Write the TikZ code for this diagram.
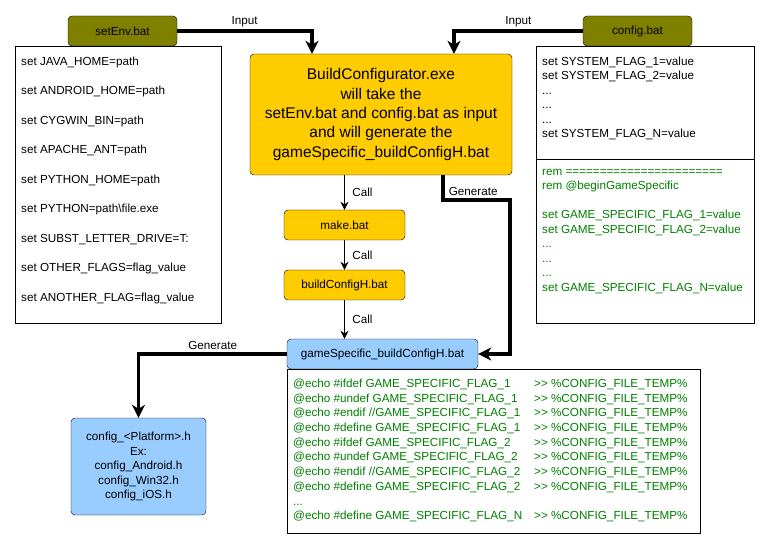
\documentclass[tikz,border=0pt]{standalone}
\usepackage{fontspec}
\setmainfont{Liberation Sans}
\usetikzlibrary{arrows.meta}

\definecolor{batolive}{HTML}{808000}
\definecolor{exeyellow}{HTML}{FFCC00}
\definecolor{hblue}{HTML}{99CCFF}
\definecolor{gamegreen}{HTML}{008000}

\newcommand{\echoln}[1]{\makebox[241pt][l]{#1}>{}> \%CONFIG\_FILE\_TEMP\%}

\begin{document}
\begin{tikzpicture}[x=1pt, y=-1pt,
    every node/.style={font=\fontsize{11.7}{14.5}\selectfont},
    srcfile/.style={draw, rounded corners=4pt, fill=batolive, minimum width=109pt, minimum height=30pt, inner sep=0pt},
    stepfile/.style={draw, rounded corners=4pt, fill=exeyellow, minimum width=121pt, minimum height=30pt, inner sep=0pt},
    hfile/.style={draw, rounded corners=4pt, fill=hblue, inner sep=0pt},
    listbox/.style={draw, fill=white, anchor=north west, inner xsep=6pt, inner ysep=0pt},
    flow/.style={line width=3.5pt, -{Stealth[length=13pt, width=13pt, inset=4pt]}},
    call/.style={line width=1pt, -{Stealth[length=8pt, width=8pt, inset=2.5pt]}},
]
    \useasboundingbox (0,0) rectangle (769,548);

    % Fichiers d'entree
    \node[srcfile] (setenv) at (122.5,31) {setEnv.bat};
    \node[srcfile] (cfgbat) at (637.5,31) {config.bat};

    \node[listbox, font=\fontsize{11.7}{29.5}\selectfont] (envlist) at (15,46)
        {\parbox[t][277pt][t]{194pt}{\vspace*{10.8pt}%
        set JAVA\_HOME=path\\
        set ANDROID\_HOME=path\\
        set CYGWIN\_BIN=path\\
        set APACHE\_ANT=path\\
        set PYTHON\_HOME=path\\
        set PYTHON=path\textbackslash file.exe\\
        set SUBST\_LETTER\_DRIVE=T:\\
        set OTHER\_FLAGS=flag\_value\\
        set ANOTHER\_FLAG=flag\_value}};

    \node[listbox] (cfgsys) at (536,46)
        {\parbox[t][113pt][t]{206pt}{\vspace*{10.8pt}%
        set SYSTEM\_FLAG\_1=value\\
        set SYSTEM\_FLAG\_2=value\\
        ...\\
        ...\\
        ...\\
        set SYSTEM\_FLAG\_N=value}};
    \node[listbox, text=gamegreen] (cfggame) at (536,159)
        {\parbox[t][164pt][t]{206pt}{\vspace*{9.8pt}%
        rem =======================\\
        rem @beginGameSpecific\\
        \mbox{}\\
        set GAME\_SPECIFIC\_FLAG\_1=value\\
        set GAME\_SPECIFIC\_FLAG\_2=value\\
        ...\\
        ...\\
        ...\\
        set GAME\_SPECIFIC\_FLAG\_N=value}};

    % Chaine de build
    \node[stepfile, minimum width=262pt, minimum height=121pt, align=center,
        font=\fontsize{15.5}{19.4}\selectfont] (build) at (381,114.5)
        {BuildConfigurator.exe\\ will take the\\ setEnv.bat and config.bat as input\\
         and will generate the\\ gameSpecific\_buildConfigH.bat};
    \node[stepfile] (make) at (344.5,225) {make.bat};
    \node[stepfile] (buildh) at (344.5,285) {buildConfigH.bat};
    \node[hfile, minimum width=191pt, minimum height=30pt] (gsb) at (382.5,354)
        {gameSpecific\_buildConfigH.bat};

    \node[listbox, text=gamegreen, font=\fontsize{11.7}{14.7}\selectfont] (gscode) at (287,369)
        {\parbox[t][164pt][t]{401pt}{\vspace*{9.8pt}%
        \echoln{@echo \#ifdef GAME\_SPECIFIC\_FLAG\_1}\\
        \echoln{@echo \#undef GAME\_SPECIFIC\_FLAG\_1}\\
        \echoln{@echo \#endif //GAME\_SPECIFIC\_FLAG\_1}\\
        \echoln{@echo \#define GAME\_SPECIFIC\_FLAG\_1}\\
        \echoln{@echo \#ifdef GAME\_SPECIFIC\_FLAG\_2}\\
        \echoln{@echo \#undef GAME\_SPECIFIC\_FLAG\_2}\\
        \echoln{@echo \#endif //GAME\_SPECIFIC\_FLAG\_2}\\
        \echoln{@echo \#define GAME\_SPECIFIC\_FLAG\_2}\\
        ...\\
        \echoln{@echo \#define GAME\_SPECIFIC\_FLAG\_N}}};

    % Resultat
    \node[hfile, minimum width=135pt, minimum height=97pt, align=center] (platform) at (138.5,466.5)
        {config\_<Platform>.h\\ Ex:\\ config\_Android.h\\ config\_Win32.h\\ config\_iOS.h};

    % Fleches
    \draw[flow] (setenv.east) -| node[pos=0.25, above, inner sep=2pt] {Input} ([xshift=-69pt]build.north);
    \draw[flow] (cfgbat.west) -| node[pos=0.25, above, inner sep=2pt] {Input} ([xshift=73pt]build.north);

    \draw[call] (build.south -| make.north) -- node[right, xshift=4pt] {Call} (make.north);
    \draw[call] (make.south) -- node[right, xshift=4pt] {Call} (buildh.north);
    \draw[call] (buildh.south) -- node[right, xshift=4pt] {Call} (buildh.south |- gsb.north);

    \draw[flow] ([xshift=62pt]build.south) -- ++(0,25)
        node[anchor=south west, inner sep=2.5pt, xshift=1.5pt] {Generate}
        -- ++(67,0) |- (gsb.east);
    \draw[flow] (gsb.west) -| node[pos=0.25, above, inner sep=3pt] {Generate} (platform.north);
\end{tikzpicture}
\end{document}
